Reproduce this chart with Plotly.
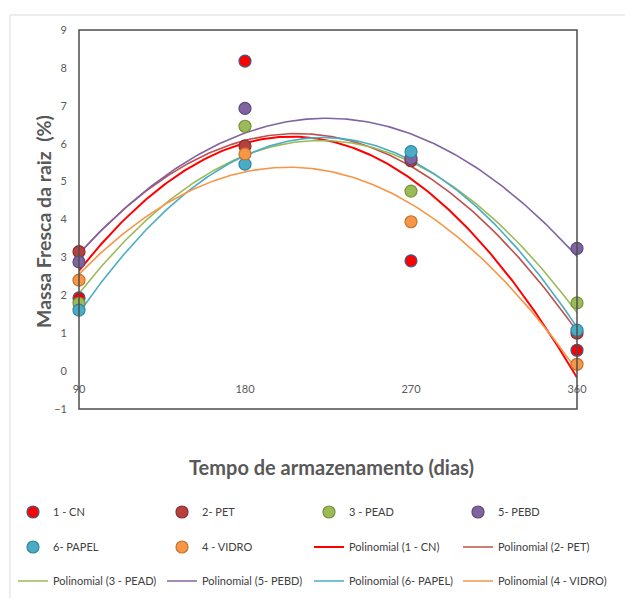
import numpy as np
import plotly.graph_objects as go

# ---- data ----
dias = [90, 180, 270, 360]
cn    = [1.93, 8.18, 2.91, 0.55]
pet   = [3.15, 5.94, 5.55, 1.00]
pead  = [1.79, 6.46, 4.75, 1.80]
pebd  = [2.88, 6.93, 5.61, 3.24]
papel = [1.61, 5.46, 5.79, 1.08]
vidro = [2.40, 5.73, 3.94, 0.18]

series_names = ["1 - CN", "2- PET", "3 - PEAD", "5- PEBD", "6- PAPEL", "4 - VIDRO"]
series_vals = [cn, pet, pead, pebd, papel, vidro]
marker_colors = ["#FF0000", "#B5413E", "#9BBB59", "#8064A2", "#4BACC6", "#F79646"]
marker_lines = ["#3B5C8F", "#8E2E2B", "#76923C", "#5F4A7B", "#31859C", "#C0742E"]
line_colors = ["#FF0000", "#C0504D", "#9BBB59", "#8064A2", "#4BACC6", "#F79646"]
trend_names = ["Polinomial (1 - CN)", "Polinomial (2- PET)", "Polinomial (3 - PEAD)",
               "Polinomial (5- PEBD)", "Polinomial (6- PAPEL)", "Polinomial (4 - VIDRO)"]
y_ticks = list(range(-1, 10))

# legend slots: row-by-row, two entries per legend box
marker_legend = ["legend", "legend", "legend2", "legend2", "legend3", "legend3"]
trend_legend = ["legend4", "legend4", "legend5", "legend5", "legend6", "legend6"]

W, H = 625, 598
L, R, T, B = 79, 48, 30, 189

fig = go.Figure()
xs = np.linspace(dias[0], dias[-1], 200)
for i, (nm, vals) in enumerate(zip(series_names, series_vals)):
    coef = np.polyfit(dias, vals, 2)
    fig.add_trace(go.Scatter(
        x=xs, y=np.polyval(coef, xs), mode="lines", name=trend_names[i],
        line=dict(color=line_colors[i], width=2 if i == 0 else 1.6),
        legend=trend_legend[i], legendrank=100 + i, cliponaxis=False,
        hoverinfo="skip"))
for i, (nm, vals) in enumerate(zip(series_names, series_vals)):
    fig.add_trace(go.Scatter(
        x=dias, y=vals, mode="markers", name=nm,
        marker=dict(size=12, color=marker_colors[i],
                    line=dict(color=marker_lines[i], width=1.2)),
        legend=marker_legend[i], legendrank=i, cliponaxis=False))

FONT = "Lato, Liberation Sans, sans-serif"
tick_font = dict(family=FONT, size=11, color="#595959")
fig.update_layout(
    width=W, height=H,
    margin=dict(l=L, r=R, t=T, b=B),
    paper_bgcolor="white", plot_bgcolor="white",
    font=dict(family=FONT, color="#404040"),
    xaxis=dict(range=[90, 360], tickvals=dias, ticktext=[str(d) for d in dias],
               showgrid=False, zeroline=False, showline=False, ticks="",
               anchor="free", position=0.1, tickfont=tick_font,
               ticklabelstandoff=10),
    yaxis=dict(range=[-1, 9], tickvals=y_ticks, showgrid=False, zeroline=False,
               showline=False, ticks="", tickfont=tick_font, ticklabelstandoff=11),
    showlegend=True,
)

leg_common = dict(orientation="h", xref="container", yref="container",
                  xanchor="left", yanchor="middle",
                  entrywidth=104, entrywidthmode="pixels",
                  font=dict(family=FONT, size=11, color="#404040"),
                  bgcolor="rgba(0,0,0,0)", traceorder="normal")
row_y = [512, 547, 581]
left_x, col_step = 13, 148
# slot layout: (legend name, row, half)
slots = [("legend", 0, 0), ("legend2", 0, 1), ("legend3", 1, 0),
         ("legend4", 1, 1), ("legend5", 2, 0), ("legend6", 2, 1)]
legs = {}
for name, row, half in slots:
    legs[name] = dict(leg_common, x=(left_x + half * 2 * col_step) / W,
                      y=1 - row_y[row] / H)
fig.update_layout(**legs)

# plot area frame
fig.add_shape(type="rect", xref="paper", yref="paper", x0=0, x1=1, y0=0, y1=1,
              line=dict(color="#4D4D4D", width=1.5), layer="above")
# outer chart border (light grey)
pw, ph = W - L - R, H - T - B
fig.add_shape(type="rect", xref="paper", yref="paper",
              x0=(10 - L) / pw, x1=(W + 20 - L) / pw,
              y0=(H - B - (H + 20)) / ph, y1=(H - B - 15) / ph,
              line=dict(color="#D9D9D9", width=1), layer="below")

# axis titles
fig.add_annotation(text="Massa Fresca da raiz  (%)", textangle=-90,
                   xref="paper", yref="paper",
                   x=(43 - L) / pw, y=(H - B - 222) / ph,
                   showarrow=False, xanchor="center", yanchor="middle",
                   font=dict(family=FONT, size=19.5, color="#595959", weight="bold"))
fig.add_annotation(text="Tempo de armazenamento (dias)",
                   xref="paper", yref="paper",
                   x=(331 - L) / pw, y=(H - B - 467) / ph,
                   showarrow=False, xanchor="center", yanchor="middle",
                   font=dict(family=FONT, size=20, color="#595959", weight="bold"))

fig.write_html("out.html")
